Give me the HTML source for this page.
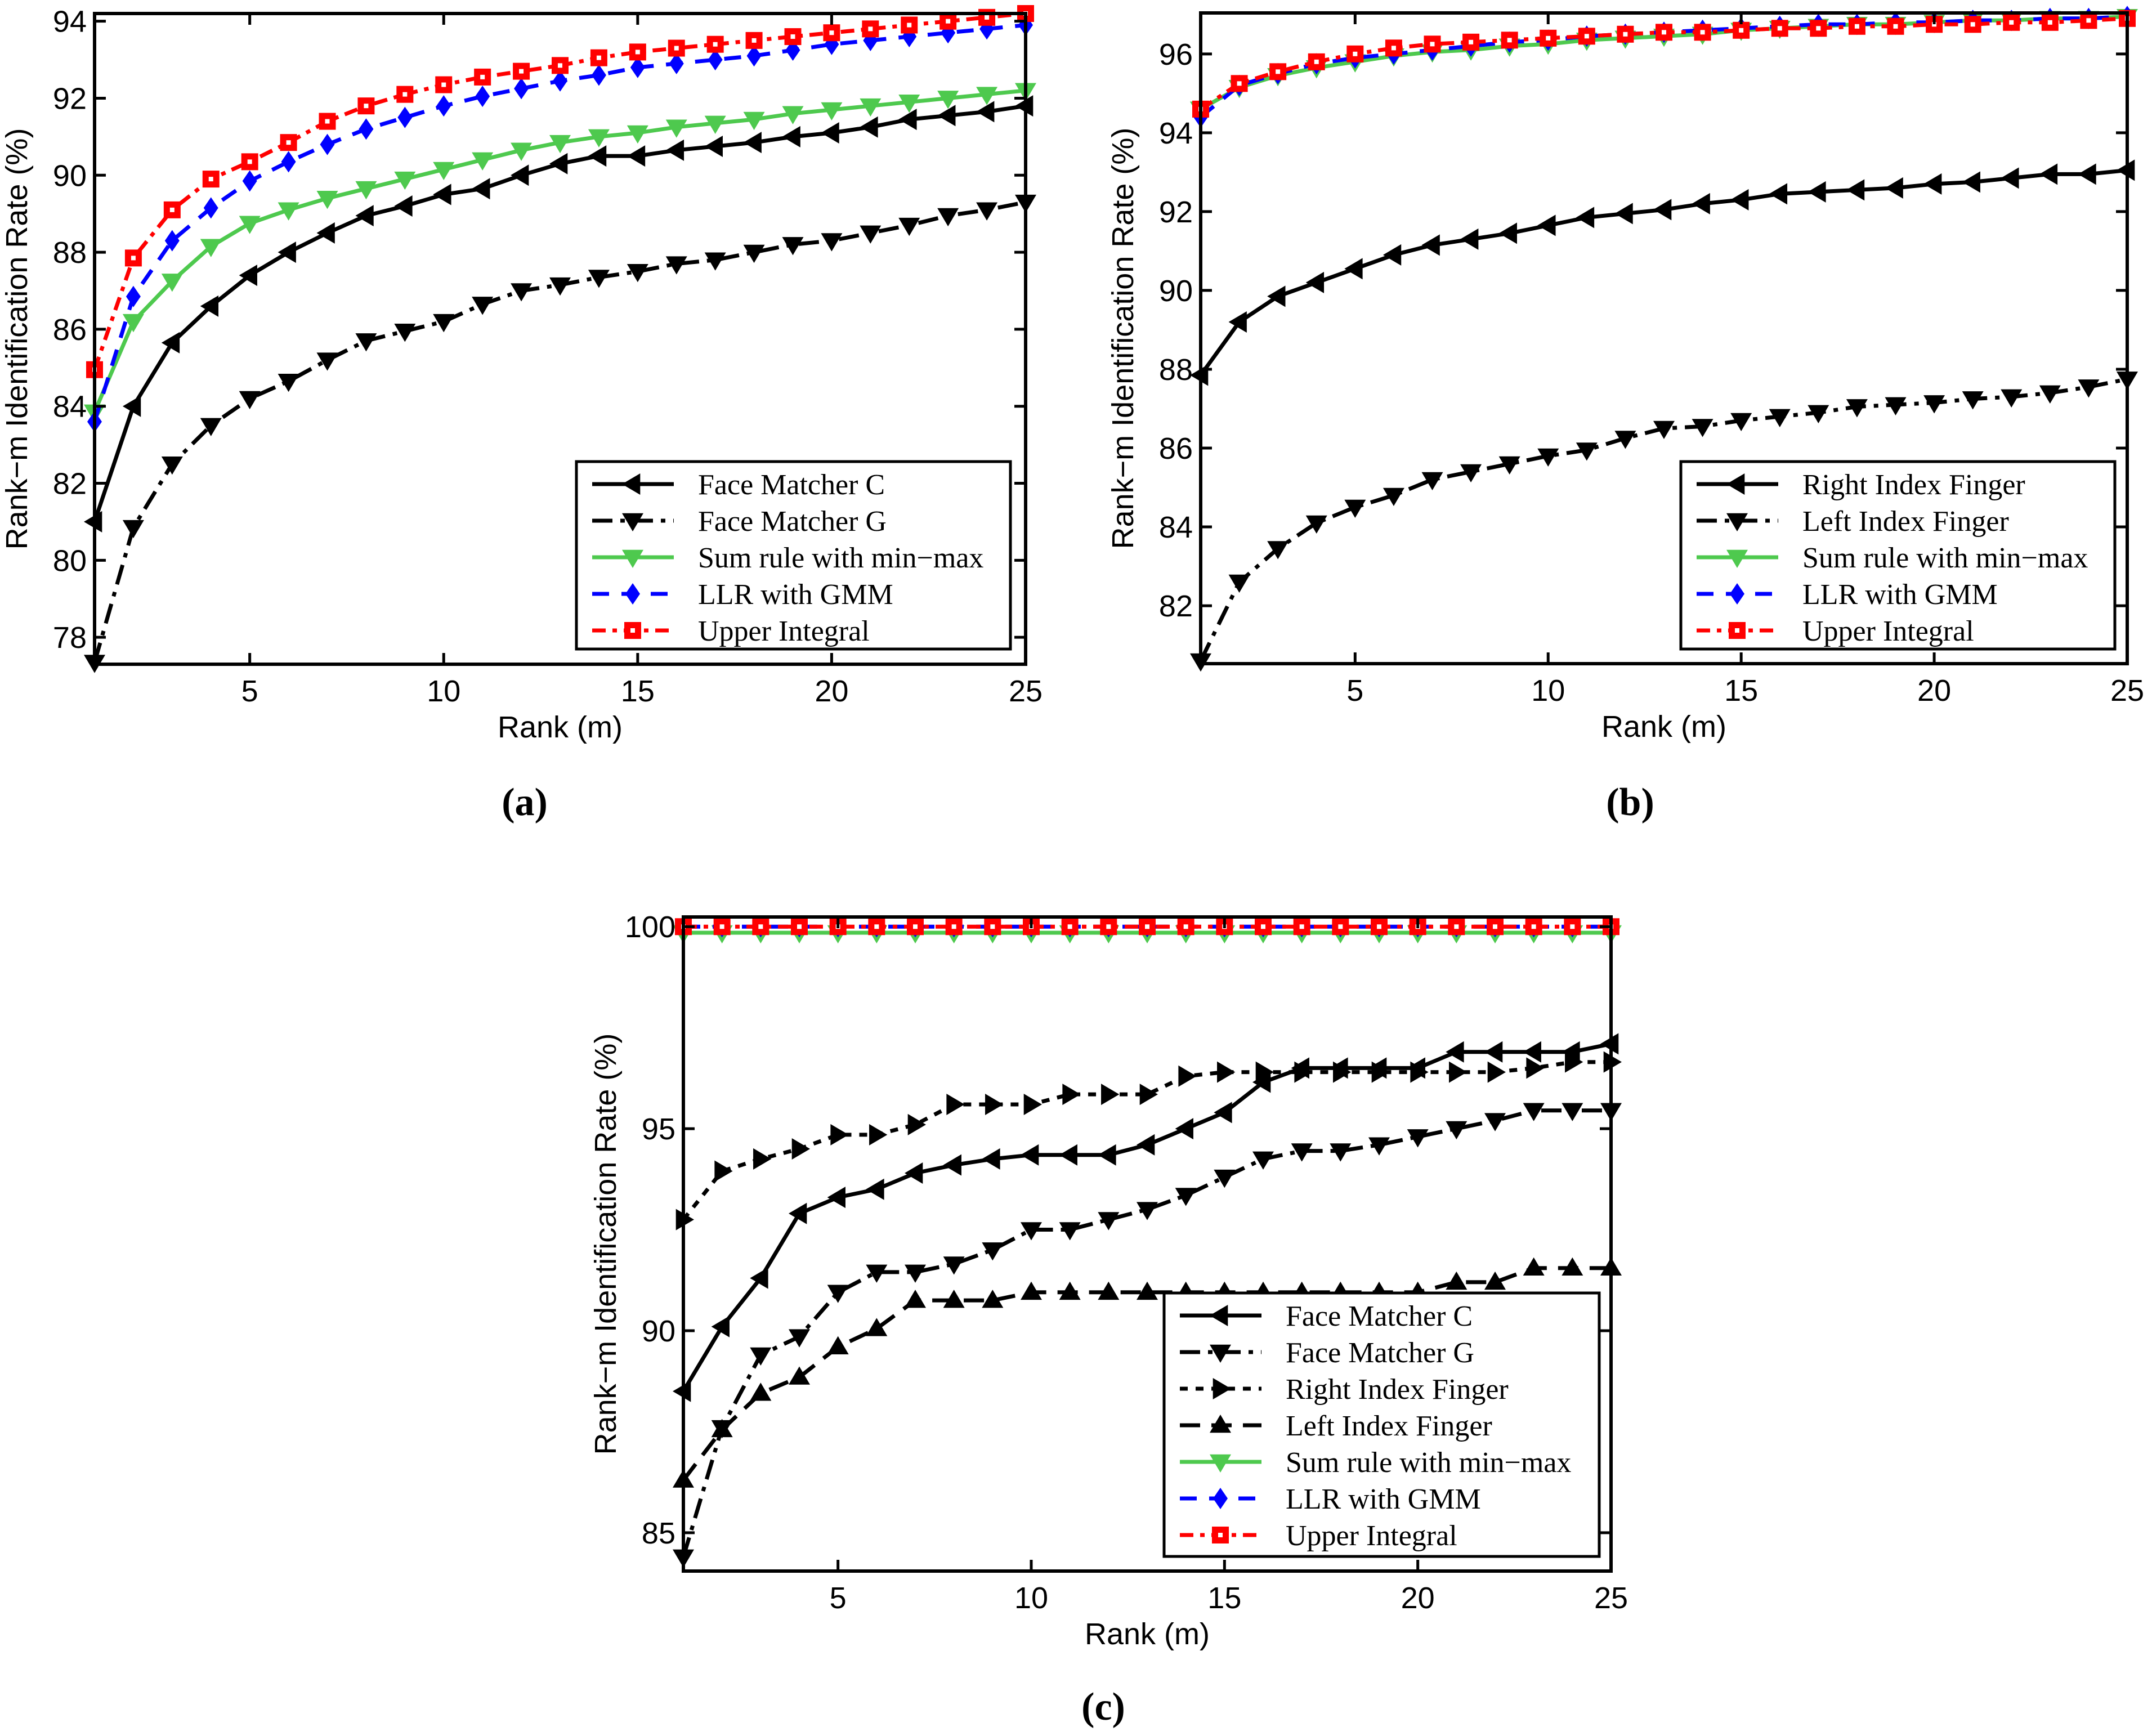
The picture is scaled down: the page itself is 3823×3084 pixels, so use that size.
<!DOCTYPE html>
<html><head><meta charset="utf-8"><style>
html,body{margin:0;padding:0;background:#fff;}
svg{display:block;}
.tk{font-family:"Liberation Sans",sans-serif;font-size:54px;fill:#000;}
.lg{font-family:"Liberation Serif",serif;font-size:52px;fill:#000;}
.pl{font-family:"Liberation Serif",serif;font-size:70px;font-weight:bold;fill:#000;}
</style></head>
<body>
<svg id="fig" xmlns="http://www.w3.org/2000/svg" width="3823" height="3084" viewBox="0 0 3823 3084"></svg>
<script>
const ranks = [1,2,3,4,5,6,7,8,9,10,11,12,13,14,15,16,17,18,19,20,21,22,23,24,25];
// Panel (a)
const aFaceC = [81.0,84.0,85.65,86.6,87.4,88.0,88.5,88.95,89.2,89.5,89.65,90.0,90.3,90.5,90.5,90.65,90.75,90.85,91.0,91.1,91.25,91.45,91.55,91.65,91.8];
const aFaceG = [77.35,80.85,82.5,83.5,84.2,84.65,85.2,85.7,85.95,86.2,86.65,87.0,87.15,87.35,87.5,87.7,87.8,88.0,88.2,88.3,88.5,88.7,88.95,89.1,89.3];
const aSum = [83.85,86.2,87.25,88.15,88.75,89.1,89.4,89.65,89.9,90.15,90.4,90.65,90.85,91.0,91.1,91.25,91.35,91.45,91.6,91.7,91.8,91.9,92.0,92.1,92.2];
const aLLR = [83.6,86.85,88.3,89.15,89.85,90.35,90.8,91.2,91.5,91.8,92.05,92.25,92.45,92.6,92.8,92.9,93.0,93.1,93.25,93.4,93.5,93.6,93.7,93.8,93.9];
const aUI = [84.95,87.85,89.1,89.9,90.35,90.85,91.4,91.8,92.1,92.35,92.55,92.7,92.85,93.05,93.2,93.3,93.4,93.5,93.6,93.7,93.8,93.9,94.0,94.1,94.2];
const aYTicks = [78,80,82,84,86,88,90,92,94];
// Panel (b)
const bRight = [87.85,89.2,89.85,90.2,90.55,90.9,91.15,91.3,91.45,91.65,91.85,91.95,92.05,92.2,92.3,92.45,92.5,92.55,92.6,92.7,92.75,92.85,92.95,92.95,93.05];
const bLeft = [80.6,82.6,83.45,84.1,84.5,84.8,85.2,85.4,85.6,85.8,85.95,86.25,86.5,86.55,86.7,86.8,86.9,87.05,87.1,87.15,87.25,87.3,87.4,87.55,87.75];
const bSum = [94.6,95.15,95.45,95.65,95.8,95.95,96.05,96.1,96.2,96.25,96.35,96.4,96.45,96.5,96.6,96.65,96.7,96.75,96.75,96.8,96.85,96.85,96.9,96.9,96.95];
const bLLR = [94.4,95.2,95.5,95.75,95.9,96.0,96.1,96.2,96.3,96.35,96.45,96.5,96.55,96.6,96.65,96.7,96.75,96.75,96.8,96.8,96.85,96.85,96.9,96.9,96.95];
const bUI = [94.6,95.25,95.55,95.8,96.0,96.15,96.25,96.3,96.35,96.4,96.45,96.5,96.55,96.55,96.6,96.65,96.65,96.7,96.7,96.75,96.75,96.8,96.8,96.85,96.9];
const bYTicks = [82,84,86,88,90,92,94,96];
// Panel (c)
const cFaceC = [88.5,90.1,91.3,92.9,93.3,93.5,93.9,94.1,94.25,94.35,94.35,94.35,94.6,95.0,95.4,96.15,96.5,96.5,96.5,96.5,96.9,96.9,96.9,96.9,97.1];
const cFaceG = [84.4,87.6,89.4,89.85,90.95,91.45,91.45,91.65,92.0,92.5,92.5,92.75,93.0,93.35,93.8,94.25,94.45,94.45,94.6,94.8,95.0,95.2,95.45,95.45,95.45];
const cRight = [92.75,93.95,94.25,94.5,94.85,94.85,95.1,95.6,95.6,95.6,95.85,95.85,95.85,96.3,96.4,96.4,96.4,96.4,96.4,96.4,96.4,96.4,96.5,96.65,96.65];
const cLeft = [86.3,87.55,88.45,88.85,89.6,90.05,90.75,90.75,90.75,90.95,90.95,90.95,90.95,90.95,90.95,90.95,90.95,90.95,90.95,90.95,91.2,91.2,91.55,91.55,91.55];
const cSum = [99.85,99.85,99.85,99.85,99.85,99.85,99.85,99.85,99.85,99.85,99.85,99.85,99.85,99.85,99.85,99.85,99.85,99.85,99.85,99.85,99.85,99.85,99.85,99.85,99.85];
const cLLR = [100,100,100,100,100,100,100,100,100,100,100,100,100,100,100,100,100,100,100,100,100,100,100,100,100];
const cUI = [100,100,100,100,100,100,100,100,100,100,100,100,100,100,100,100,100,100,100,100,100,100,100,100,100];
const cYTicks = [85,90,95,100];
const xTicks = [5,10,15,20,25];

const NS = "http://www.w3.org/2000/svg";
const fig = document.getElementById('fig');
function mk(tag, attrs, parent){
  const e = document.createElementNS(NS, tag);
  for (const k in attrs) e.setAttribute(k, attrs[k]);
  (parent||fig).appendChild(e);
  return e;
}
const STY = {
  faceC:{c:'#000',d:'',m:'left'},
  faceG:{c:'#000',d:'36 14 8 14',m:'down'},
  sum:{c:'#4ec94e',d:'',m:'down'},
  llr:{c:'#0000ff',d:'30 22',m:'diamond'},
  ui:{c:'#ff0000',d:'24 12 8 12',m:'square'},
  right:{c:'#000',d:'14 14',m:'right'},
  left:{c:'#000',d:'36 20',m:'up'}
};
function marker(g, type, x, y, col){
  const s = 19;
  let p;
  if (type==='square'){ p = mk('rect',{x:x-15,y:y-15,width:30,height:30,fill:col},g);
    mk('rect',{x:x-4,y:y-4,width:8,height:8,fill:'#fff'},g); }
  else if (type==='diamond') p = mk('polygon',{points:`${x},${y-s} ${x+13},${y} ${x},${y+s} ${x-13},${y}`,fill:col},g);
  else if (type==='down') p = mk('polygon',{points:`${x-s},${y-s*0.7} ${x+s},${y-s*0.7} ${x},${y+s}`,fill:col},g);
  else if (type==='up') p = mk('polygon',{points:`${x-s},${y+s*0.7} ${x+s},${y+s*0.7} ${x},${y-s}`,fill:col},g);
  else if (type==='left') p = mk('polygon',{points:`${x+s*0.7},${y-s} ${x+s*0.7},${y+s} ${x-s},${y}`,fill:col},g);
  else if (type==='right') p = mk('polygon',{points:`${x-s*0.7},${y-s} ${x-s*0.7},${y+s} ${x+s},${y}`,fill:col},g);
  return p;
}
function panel(cfg){
  const {L,R,T,B,ymin,ymax,yTicks,series,label,labelPos,legend,name} = cfg;
  const g = mk('g',{});
  
  
  const X = v => L + (v-1)/(24)*(R-L);
  const Y = v => B - (v-ymin)/(ymax-ymin)*(B-T);
  series.forEach(sr=>{
    const st = STY[sr.k];
    const sg = mk('g',{},g);
    
    
    const pts = ranks.map((r,i)=>X(r).toFixed(1)+','+Y(sr.v[i]).toFixed(1)).join(' ');
    const pl = mk('polyline',{points:pts,fill:'none',stroke:st.c,'stroke-width':7,'stroke-dasharray':st.d,'stroke-linejoin':'round'},sg);
    
    
    ranks.forEach((r,i)=>{ const m = marker(sg, st.m, X(r), Y(sr.v[i]), st.c);
      
       });
  });
  const box = mk('rect',{x:L,y:T,width:R-L,height:B-T,fill:'none',stroke:'#000','stroke-width':6},g);
  
  
  xTicks.forEach(t=>{
    const x = X(t);
    mk('line',{x1:x,y1:B,x2:x,y2:B-20,stroke:'#000','stroke-width':5},g);
    mk('line',{x1:x,y1:T,x2:x,y2:T+20,stroke:'#000','stroke-width':5},g);
    const tx = mk('text',{x:x,y:B+66,'text-anchor':'middle',class:'tk'},g);
    tx.textContent = t;
    
    
  });
  yTicks.forEach(t=>{
    const y = Y(t);
    mk('line',{x1:L,y1:y,x2:L+20,y2:y,stroke:'#000','stroke-width':5},g);
    mk('line',{x1:R,y1:y,x2:R-20,y2:y,stroke:'#000','stroke-width':5},g);
    const tx = mk('text',{x:L-14,y:y+19,'text-anchor':'end',class:'tk'},g);
    tx.textContent = t;
    
    
  });
  const xt = mk('text',{x:(L+R)/2,y:B+130,'text-anchor':'middle',class:'tk'},g);
  xt.textContent = 'Rank (m)';
  
  
  const yx = L-120, yy=(T+B)/2;
  const yt = mk('text',{x:yx,y:yy,'text-anchor':'middle',class:'tk',transform:`rotate(-90 ${yx} ${yy})`},g);
  yt.textContent = 'Rank\u2212m Identification Rate (%)';
  
  
  const lg = mk('g',{},g);
  
  
  mk('rect',{x:legend.x,y:legend.y,width:legend.w,height:legend.h,fill:'#fff',stroke:'#000','stroke-width':5},lg);
  legend.items.forEach((it,i)=>{
    const st = STY[it.k];
    const cy = legend.y + 40 + i*65;
    const ent = mk('g',{},lg);
    
    
    mk('line',{x1:legend.x+28,y1:cy,x2:legend.x+173,y2:cy,stroke:st.c,'stroke-width':7,'stroke-dasharray':st.d},ent);
    marker(ent, st.m, legend.x+100, cy, st.c);
    const t = mk('text',{x:legend.x+216,y:cy+18,class:'lg'},ent);
    t.textContent = it.t;
  });
  const pt = mk('text',{x:labelPos[0],y:labelPos[1],'text-anchor':'middle',class:'pl'},g);
  pt.textContent = label;
  
  
}
panel({name:'panel-a',L:168,R:1822,T:24,B:1180,ymin:77.3,ymax:94.2,yTicks:aYTicks,
  series:[{k:'faceG',v:aFaceG},{k:'faceC',v:aFaceC},{k:'sum',v:aSum},{k:'llr',v:aLLR},{k:'ui',v:aUI}],
  label:'(a)',labelPos:[932,1448],
  legend:{x:1024,y:820,w:771,h:333,items:[{k:'faceC',t:'Face Matcher C'},{k:'faceG',t:'Face Matcher G'},{k:'sum',t:'Sum rule with min\u2212max'},{k:'llr',t:'LLR with GMM'},{k:'ui',t:'Upper Integral'}]}});
panel({name:'panel-b',L:2133,R:3779,T:23,B:1179,ymin:80.53,ymax:97.04,yTicks:bYTicks,
  series:[{k:'faceG',v:bLeft},{k:'faceC',v:bRight},{k:'sum',v:bSum},{k:'llr',v:bLLR},{k:'ui',v:bUI}],
  label:'(b)',labelPos:[2896,1448],
  legend:{x:2986,y:820,w:771,h:333,items:[{k:'faceC',t:'Right Index Finger'},{k:'faceG',t:'Left Index Finger'},{k:'sum',t:'Sum rule with min\u2212max'},{k:'llr',t:'LLR with GMM'},{k:'ui',t:'Upper Integral'}]}});
panel({name:'panel-c',L:1214,R:2862,T:1629,B:2791,ymin:84.05,ymax:100.24,yTicks:cYTicks,
  series:[{k:'faceG',v:cFaceG},{k:'left',v:cLeft},{k:'right',v:cRight},{k:'faceC',v:cFaceC},{k:'sum',v:cSum},{k:'llr',v:cLLR},{k:'ui',v:cUI}],
  label:'(c)',labelPos:[1960,3055],
  legend:{x:2068,y:2297,w:773,h:468,items:[{k:'faceC',t:'Face Matcher C'},{k:'faceG',t:'Face Matcher G'},{k:'right',t:'Right Index Finger'},{k:'left',t:'Left Index Finger'},{k:'sum',t:'Sum rule with min\u2212max'},{k:'llr',t:'LLR with GMM'},{k:'ui',t:'Upper Integral'}]}});
</script>
</body></html>
